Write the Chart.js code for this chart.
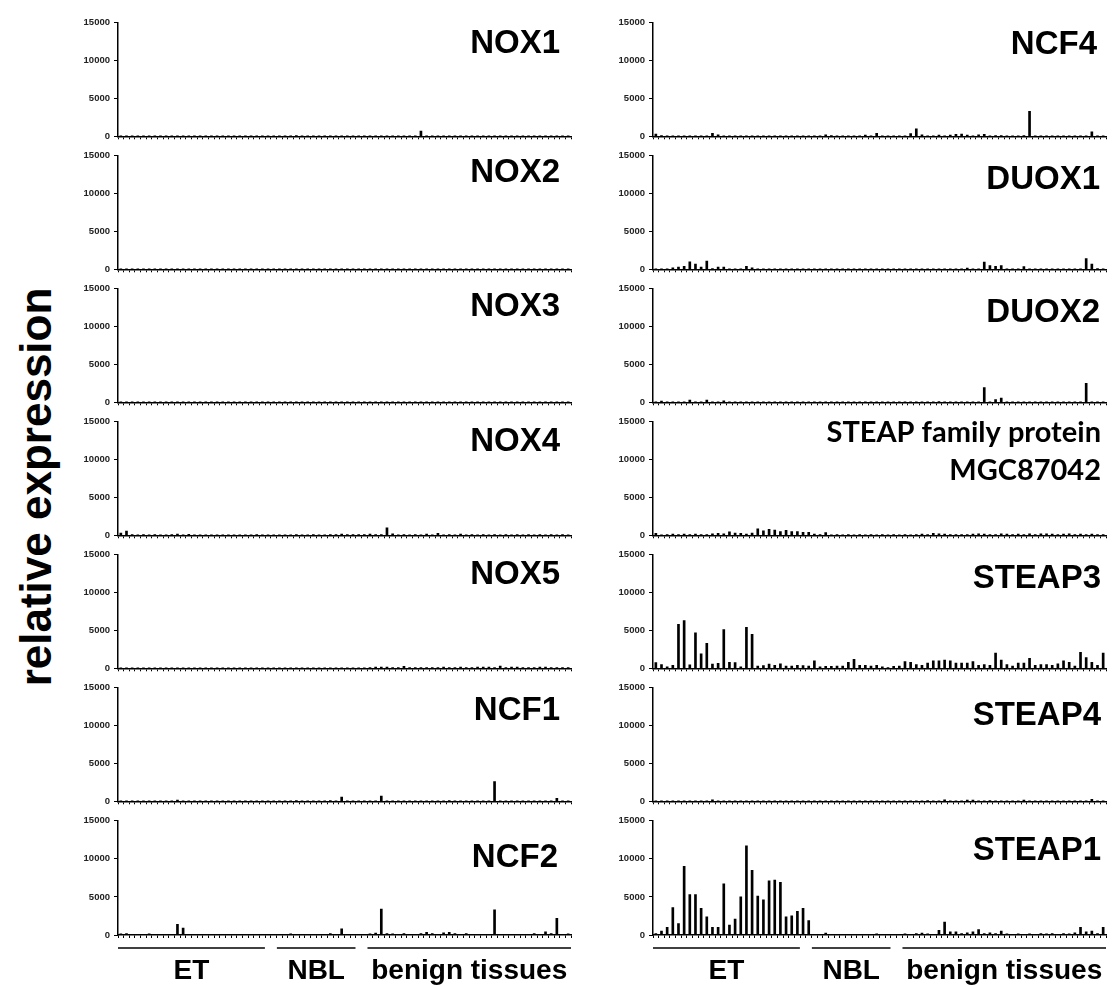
<!DOCTYPE html>
<html>
<head>
<meta charset="utf-8">
<script src="https://cdn.jsdelivr.net/npm/chart.js@4.4.1/dist/chart.umd.min.js"></script>
<style>
  body { margin: 0; background: #fff; width: 1115px; height: 987px; overflow: hidden; position: relative; }
  canvas { position: absolute; }
  #ylabel {
    position: absolute; left: 36px; top: 487px;
    transform: translate(-50%, -50%) rotate(-90deg);
    font: bold 44px "Liberation Sans", Arial, sans-serif;
    white-space: nowrap; color: #000;
  }
</style>
</head>
<body>
<div id="ylabel">relative expression</div>
<script>
// Sample groups (x categories) and y ticks
const groupNames = ['ET', 'NBL', 'benign tissues'];
const groupSizes = [27, 16, 37];
const yTicks = [0, 5000, 10000, 15000];

// Relative expression per sample
const nox1 = [40,30,40,30,30,40,30,30,40,30, 30,40,30,30,30,30,40,30,30,30,
              30,30,40,30,30,30,30,30,40,30, 30,100,30,30,30,30,30,30,30,30,
              30,30,30,30,40,30,30,40,30,30, 30,30,40,700,30,30,40,30,30,30,
              30,40,30,30,30,30,40,30,30,30, 40,30,30,30,30,40,30,30,30,40];
const nox2 = [30,20,30,20,30,30,20,30,20,30, 30,20,30,30,20,30,20,30,30,20,
              30,20,30,20,30,30,20,30,20,30, 30,20,30,30,20,30,20,30,30,20,
              30,20,30,20,30,30,20,30,20,30, 30,20,30,30,20,30,20,30,30,20,
              30,20,30,20,30,30,20,30,20,30, 30,20,30,30,20,30,20,30,30,20];
const nox3 = [20,30,20,30,20,20,30,20,30,20, 20,30,20,20,30,20,30,20,20,30,
              20,30,20,30,20,20,30,20,30,20, 20,30,20,20,30,20,30,20,20,30,
              20,30,20,30,20,20,30,20,30,20, 20,30,20,20,30,20,30,20,20,30,
              20,30,20,30,20,20,30,20,30,20, 20,30,20,20,30,20,30,20,20,30];
const nox4 = [300,550,80,60,80,60,80,60,60,80, 150,60,120,60,60,60,60,60,60,60,
              60,60,60,60,80,60,60,60,60,60, 60,80,60,60,80,60,60,80,100,150,
              80,100,80,100,150,80,80,1000,200,60, 80,60,80,60,150,60,250,60,80,60,
              150,60,80,60,80,60,100,60,80,60, 80,60,80,60,80,60,80,60,80,60];
const nox5 = [60,50,60,50,60,60,50,60,50,60, 60,50,60,60,50,60,50,60,60,50,
              60,50,60,50,60,60,50,60,50,60, 60,50,60,60,50,60,50,60,60,70,
              70,60,70,60,100,150,150,150,100,100, 250,100,100,100,100,100,100,150,100,100,
              150,100,100,150,150,150,100,300,100,150, 150,100,100,100,150,150,100,100,100,100];
const ncf1 = [40,40,40,40,40,40,40,40,40,40, 150,40,40,40,40,40,40,40,40,40,
              40,40,40,40,40,40,40,40,40,40, 40,100,40,40,40,40,40,100,40,550,
              40,40,40,40,40,40,700,40,40,40, 40,40,40,40,40,40,40,40,100,40,
              40,40,40,40,40,40,2600,40,40,40, 40,40,40,40,40,40,40,400,40,40];
const ncf2 = [150,200,100,100,80,150,80,80,80,80, 1400,900,80,100,80,80,80,80,80,80,
              80,80,80,80,80,80,80,80,80,80, 150,80,80,80,80,80,80,200,80,800,
              80,80,80,80,150,250,3400,200,150,80, 200,80,80,200,350,200,80,300,350,200,
              80,200,80,80,80,80,3300,80,80,80, 80,80,80,200,80,400,200,2200,80,150];
const ncf4 = [300,100,60,60,60,60,60,60,60,60, 400,200,60,60,60,60,60,60,60,60,
              60,60,60,60,60,60,60,60,60,60, 200,100,60,60,60,60,60,150,60,400,
              60,60,60,60,60,350,1000,200,60,60, 150,60,150,250,300,150,60,200,250,60,
              100,100,60,60,60,100,3300,60,60,60, 60,60,60,60,60,60,60,600,60,60];
const duox1 = [40,40,40,200,300,400,1000,700,300,1100, 100,300,300,40,40,40,400,200,40,40,
               40,40,40,40,40,40,40,40,40,40, 40,40,40,40,40,40,40,40,40,40,
               40,40,40,40,40,40,40,40,40,40, 40,40,40,40,40,150,40,40,950,500,
               400,500,40,40,40,350,40,40,40,40, 40,40,40,40,40,40,1400,700,100,40];
const duox2 = [40,150,40,40,40,40,300,40,40,300, 40,40,200,40,40,40,40,40,40,40,
               40,40,40,40,40,40,40,40,40,40, 40,40,40,40,40,40,40,40,40,40,
               40,40,40,40,40,40,40,40,40,40, 100,40,40,40,40,40,40,40,1950,40,
               350,550,40,40,40,40,40,40,40,40, 40,40,40,40,40,40,2500,40,40,40];
const steapFamily = [250,50,100,150,100,150,80,150,100,80, 200,250,200,450,300,250,150,300,850,600,
                     800,700,500,650,500,500,400,400,150,100, 350,60,80,60,80,60,80,60,80,60,
                     80,60,80,60,80,60,80,150,80,250, 200,150,80,80,80,80,150,200,150,80,
                     80,200,150,80,150,80,200,80,200,200, 150,80,150,200,80,150,80,150,80,80];
const steap3 = [750,500,200,400,5800,6300,450,4700,1900,3300, 550,650,5100,800,750,200,5400,4500,300,350,
                550,400,600,300,300,400,350,300,1000,200, 250,250,300,300,800,1200,400,400,300,400,
                200,100,250,300,900,800,500,400,700,1000, 1000,1100,1000,700,700,700,900,400,500,400,
                2000,1100,500,300,700,700,1300,400,500,500, 400,600,1000,800,300,2100,1400,800,400,2000];
const steap4 = [50,50,50,50,50,50,50,50,50,50, 200,50,50,50,50,50,50,50,50,50,
                50,50,50,50,50,50,50,50,50,50, 50,50,50,50,50,50,50,50,50,50,
                50,50,50,50,50,50,50,50,100,50, 50,200,50,50,50,150,150,50,50,100,
                50,50,50,50,50,150,50,50,50,50, 50,50,50,50,50,50,50,250,50,50];
const steap1 = [200,500,1000,3600,1500,9000,5300,5300,3500,2400, 1000,1000,6700,1300,2100,5000,11700,8500,5100,4600,
                7100,7200,6900,2400,2500,3100,3500,1900,80,80, 250,80,80,60,80,80,60,80,60,150,
                80,60,80,80,150,100,200,250,150,100, 600,1700,400,400,200,300,400,700,200,300,
                200,500,150,100,150,100,150,100,200,150, 200,100,200,150,300,1000,400,500,200,1000];

// sample labels built from the groups
const sampleLabels = [];
groupNames.forEach((g, i) => {
  for (let k = 1; k <= groupSizes[i]; k++) sampleLabels.push(g + ' ' + k);
});

const geneSize = 33, smallSize = 29;
const geneFont = 'bold 33px "Liberation Sans", Arial, sans-serif';
const smallFont = 'bold 29px Lato, "Open Sans", sans-serif';

// panel layout: column, row, title lines, title height (fraction of plot), right inset
const panels = [
  { data: nox1, col: 0, row: 0, lines: ['NOX1'], fracs: [0.836], inset: 11 },
  { data: nox2, col: 0, row: 1, lines: ['NOX2'], fracs: [0.87], inset: 11 },
  { data: nox3, col: 0, row: 2, lines: ['NOX3'], fracs: [0.865], inset: 11 },
  { data: nox4, col: 0, row: 3, lines: ['NOX4'], fracs: [0.85], inset: 11 },
  { data: nox5, col: 0, row: 4, lines: ['NOX5'], fracs: [0.845], inset: 11 },
  { data: ncf1, col: 0, row: 5, lines: ['NCF1'], fracs: [0.82], inset: 11 },
  { data: ncf2, col: 0, row: 6, lines: ['NCF2'], fracs: [0.70], inset: 13 },
  { data: ncf4, col: 1, row: 0, lines: ['NCF4'], fracs: [0.83], inset: 9 },
  { data: duox1, col: 1, row: 1, lines: ['DUOX1'], fracs: [0.81], inset: 6 },
  { data: duox2, col: 1, row: 2, lines: ['DUOX2'], fracs: [0.81], inset: 6 },
  { data: steapFamily, col: 1, row: 3, lines: ['STEAP family protein', 'MGC87042'], fracs: [0.915, 0.58], inset: 5, small: true },
  { data: steap3, col: 1, row: 4, lines: ['STEAP3'], fracs: [0.81], inset: 5 },
  { data: steap4, col: 1, row: 5, lines: ['STEAP4'], fracs: [0.78], inset: 5 },
  { data: steap1, col: 1, row: 6, lines: ['STEAP1'], fracs: [0.758], inset: 5 }
];

Chart.defaults.font.family = '"Liberation Sans", Arial, sans-serif';

const titlePlugin = {
  id: 'panelTitle',
  afterDraw(chart, args, opts) {
    const a = chart.chartArea, ctx = chart.ctx;
    ctx.save();
    ctx.fillStyle = '#000';
    ctx.textAlign = 'right';
    ctx.textBaseline = 'alphabetic';
    opts.lines.forEach((t, i) => {
      ctx.font = opts.small ? smallFont : geneFont;
      const size = opts.small ? smallSize : geneSize;
      const cy = a.bottom - opts.fracs[i] * (a.bottom - a.top);
      ctx.fillText(t, a.right - opts.inset, cy + size * 0.36);
    });
    ctx.restore();
  }
};

const groupPlugin = {
  id: 'groupLines',
  afterDraw(chart, args, opts) {
    if (!opts.show) return;
    const x = chart.scales.x, a = chart.chartArea, ctx = chart.ctx;
    const step = x.getPixelForValue(1) - x.getPixelForValue(0);
    ctx.save();
    ctx.strokeStyle = '#000';
    ctx.lineWidth = 1.5;
    ctx.fillStyle = '#000';
    ctx.font = 'bold 28px "Liberation Sans", Arial, sans-serif';
    ctx.textAlign = 'center';
    let start = 0;
    groupSizes.forEach((n, g) => {
      let x0 = x.getPixelForValue(start) - step / 2;
      let x1 = x.getPixelForValue(start + n - 1) + step / 2;
      if (g > 0) x0 += 6;
      if (g < groupSizes.length - 1) x1 -= 6;
      ctx.beginPath();
      ctx.moveTo(x0, a.bottom + 13);
      ctx.lineTo(x1, a.bottom + 13);
      ctx.stroke();
      ctx.fillText(groupNames[g], (x0 + x1) / 2, a.bottom + 44);
      start += n;
    });
    ctx.restore();
  }
};

panels.forEach(p => {
  const bottom = p.row === 6;
  const cv = document.createElement('canvas');
  cv.width = 507;
  cv.height = bottom ? 183 : 133;
  cv.style.left = (p.col === 0 ? 70 : 605) + 'px';
  cv.style.top = Math.round(12.7 + 133.05 * p.row) + 'px';
  document.body.appendChild(cv);

  new Chart(cv, {
    type: 'bar',
    data: {
      labels: sampleLabels,
      datasets: [{ data: p.data, backgroundColor: '#000', barThickness: 2 }]
    },
    options: {
      responsive: false,
      animation: false,
      devicePixelRatio: 1,
      layout: { padding: { top: 8, right: 6, left: 0, bottom: bottom ? 50 : 0 } },
      plugins: {
        legend: { display: false },
        tooltip: { enabled: false },
        panelTitle: { lines: p.lines, fracs: p.fracs, inset: p.inset, small: !!p.small },
        groupLines: { show: bottom }
      },
      scales: {
        x: {
          offset: true,
          grid: { offset: true, drawOnChartArea: false, tickLength: 3, color: '#000', lineWidth: 1 },
          border: { color: '#000', width: 1.5 },
          ticks: { display: false, autoSkip: false },
          afterFit: s => { s.height = 9; }
        },
        y: {
          min: 0,
          max: 15000,
          afterBuildTicks: s => { s.ticks = yTicks.map(v => ({ value: v })); },
          grid: { drawOnChartArea: false, tickLength: 4, color: '#000', lineWidth: 1 },
          border: { color: '#000', width: 1.5 },
          ticks: {
            font: { weight: 'bold', size: 9.5 },
            color: '#222',
            padding: 4,
            callback: v => String(v)
          },
          afterFit: s => { s.width = 48; }
        }
      }
    },
    plugins: [titlePlugin, groupPlugin]
  });
});
</script>
</body>
</html>
